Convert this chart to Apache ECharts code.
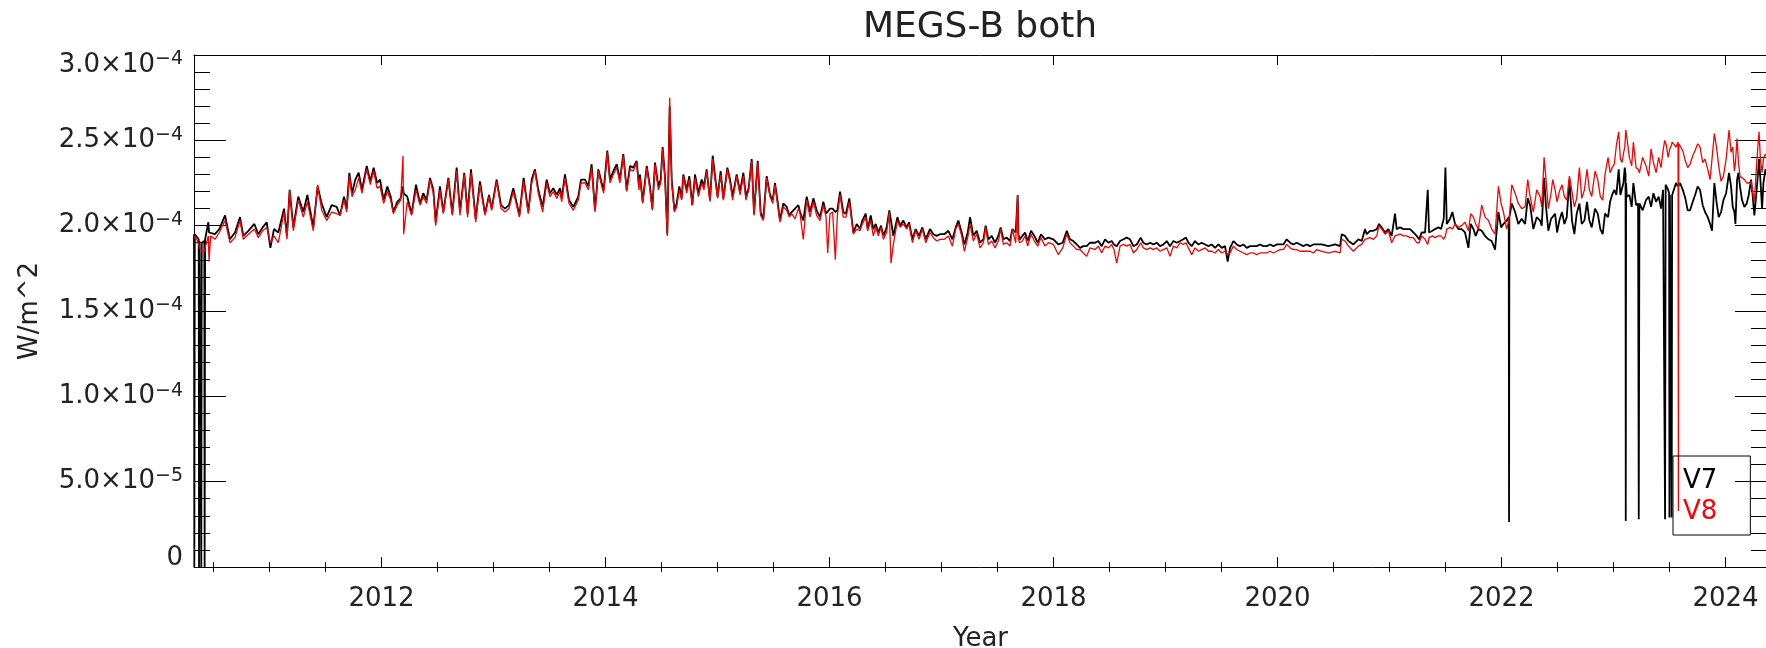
<!DOCTYPE html>
<html><head><meta charset="utf-8">
<script src="https://cdn.jsdelivr.net/npm/echarts@6/dist/echarts.min.js"></script>
<style>html,body{margin:0;padding:0;background:#fff}#c{width:1766px;height:648px}</style>
</head><body><div id="c"></div>
<script>
// Decimal year of each sample
const years = [
2010.326,2010.329,2010.333,2010.350,2010.368,2010.371,2010.375,2010.388,2010.391,2010.395,
2010.418,2010.421,2010.425,2010.440,2010.454,2010.460,2010.475,2010.513,2010.552,2010.603,
2010.647,2010.692,2010.737,2010.766,2010.811,2010.865,2010.900,2010.939,2010.975,2011.008,
2011.040,2011.079,2011.130,2011.156,2011.180,2011.213,2011.257,2011.302,2011.338,2011.391,
2011.430,2011.466,2011.510,2011.555,2011.600,2011.630,2011.665,2011.689,2011.713,2011.737,
2011.766,2011.796,2011.826,2011.868,2011.900,2011.930,2011.960,2011.987,2012.019,2012.052,
2012.082,2012.106,2012.141,2012.171,2012.192,2012.198,2012.230,2012.269,2012.308,2012.344,
2012.373,2012.403,2012.433,2012.463,2012.484,2012.522,2012.552,2012.597,2012.632,2012.671,
2012.701,2012.739,2012.769,2012.799,2012.841,2012.879,2012.924,2012.960,2012.984,2013.028,
2013.067,2013.103,2013.138,2013.177,2013.231,2013.269,2013.311,2013.341,2013.370,2013.400,
2013.439,2013.475,2013.504,2013.534,2013.564,2013.594,2013.609,2013.638,2013.674,2013.713,
2013.757,2013.781,2013.817,2013.847,2013.876,2013.906,2013.936,2013.966,2013.984,2014.016,
2014.040,2014.070,2014.100,2014.129,2014.159,2014.189,2014.219,2014.248,2014.278,2014.299,
2014.308,2014.332,2014.368,2014.397,2014.418,2014.442,2014.472,2014.493,2014.510,2014.531,
2014.552,2014.573,2014.591,2014.615,2014.635,2014.659,2014.680,2014.695,2014.725,2014.748,
2014.775,2014.799,2014.829,2014.859,2014.879,2014.903,2014.933,2014.957,2014.978,2015.001,
2015.028,2015.052,2015.088,2015.112,2015.135,2015.171,2015.201,2015.231,2015.254,2015.278,
2015.305,2015.326,2015.359,2015.385,2015.409,2015.439,2015.469,2015.493,2015.513,2015.537,
2015.558,2015.588,2015.618,2015.641,2015.662,2015.692,2015.722,2015.737,2015.766,2015.796,
2015.826,2015.856,2015.885,2015.915,2015.945,2015.969,2015.984,2016.004,2016.028,2016.052,
2016.070,2016.094,2016.123,2016.147,2016.177,2016.213,2016.243,2016.272,2016.293,2016.323,
2016.341,2016.368,2016.391,2016.412,2016.436,2016.460,2016.481,2016.510,2016.534,2016.549,
2016.570,2016.606,2016.630,2016.659,2016.689,2016.710,2016.740,2016.769,2016.799,2016.829,
2016.859,2016.897,2016.927,2016.957,2016.987,2017.025,2017.061,2017.097,2017.127,2017.150,
2017.180,2017.204,2017.234,2017.255,2017.284,2017.314,2017.344,2017.374,2017.394,2017.418,
2017.448,2017.478,2017.507,2017.528,2017.552,2017.582,2017.612,2017.632,2017.662,2017.674,
2017.680,2017.686,2017.698,2017.722,2017.746,2017.769,2017.799,2017.829,2017.859,2017.888,
2017.924,2017.954,2017.999,2018.043,2018.082,2018.118,2018.147,2018.177,2018.207,2018.237,
2018.266,2018.296,2018.326,2018.371,2018.400,2018.430,2018.460,2018.490,2018.519,2018.540,
2018.564,2018.594,2018.624,2018.653,2018.683,2018.713,2018.743,2018.778,2018.802,2018.832,
2018.862,2018.891,2018.921,2018.951,2018.981,2019.011,2019.040,2019.070,2019.100,2019.130,
2019.159,2019.183,2019.204,2019.234,2019.263,2019.293,2019.323,2019.353,2019.383,2019.412,
2019.442,2019.472,2019.502,2019.531,2019.555,2019.576,2019.606,2019.636,2019.665,2019.695,
2019.725,2019.755,2019.784,2019.814,2019.844,2019.874,2019.903,2019.933,2019.963,2019.993,
2020.022,2020.052,2020.082,2020.112,2020.141,2020.171,2020.201,2020.231,2020.260,2020.290,
2020.320,2020.350,2020.394,2020.454,2020.514,2020.558,2020.573,2020.603,2020.633,2020.677,
2020.722,2020.752,2020.781,2020.796,2020.826,2020.856,2020.886,2020.906,2020.930,2020.960,
2020.990,2021.019,2021.049,2021.064,2021.094,2021.124,2021.153,2021.183,2021.213,2021.243,
2021.264,2021.287,2021.317,2021.341,2021.353,2021.383,2021.406,2021.436,2021.460,2021.484,
2021.499,2021.511,2021.540,2021.561,2021.585,2021.615,2021.644,2021.674,2021.704,2021.725,
2021.749,2021.769,2021.793,2021.823,2021.853,2021.883,2021.912,2021.942,2021.972,2021.996,
2022.017,2022.046,2022.064,2022.067,2022.070,2022.091,2022.121,2022.150,2022.180,2022.210,
2022.234,2022.255,2022.284,2022.314,2022.344,2022.359,2022.380,2022.397,2022.418,2022.442,
2022.457,2022.478,2022.496,2022.516,2022.540,2022.561,2022.582,2022.606,2022.629,2022.650,
2022.671,2022.695,2022.716,2022.740,2022.763,2022.784,2022.805,2022.835,2022.859,2022.882,
2022.903,2022.924,2022.951,2022.969,2022.987,2023.007,2023.025,2023.046,2023.061,2023.076,
2023.088,2023.100,2023.107,2023.109,2023.112,2023.118,2023.141,2023.162,2023.177,2023.201,
2023.219,2023.225,2023.231,2023.260,2023.290,2023.314,2023.335,2023.356,2023.380,2023.403,
2023.424,2023.442,2023.457,2023.460,2023.465,2023.472,2023.487,2023.496,2023.499,2023.503,
2023.510,2023.516,2023.519,2023.523,2023.531,2023.558,2023.576,2023.579,2023.582,2023.594,
2023.618,2023.641,2023.662,2023.683,2023.707,2023.728,2023.751,2023.772,2023.796,2023.817,
2023.841,2023.862,2023.879,2023.900,2023.921,2023.939,2023.960,2023.981,2024.005,2024.031,
2024.049,2024.064,2024.079,2024.088,2024.103,2024.115,2024.129,2024.147,2024.168,2024.189,
2024.207,2024.228,2024.243,2024.257,2024.278,2024.299,2024.311,2024.326,2024.338,2024.356,
2024.370
];
// V7 irradiance, in units of 1e-4 W/m^2
const v7 = [
1.95,0,1.95,1.94,1.92,0,1.91,1.90,0,1.90,
1.91,0,1.92,1.93,2.02,1.96,1.97,1.95,1.98,2.06,
1.92,1.96,2.05,1.94,1.97,2.01,1.95,1.99,2.02,1.87,
1.98,1.96,2.10,1.94,2.21,1.99,2.17,2.08,2.18,1.99,
2.23,2.13,2.05,2.12,2.11,2.06,2.17,2.10,2.31,2.19,
2.27,2.31,2.21,2.35,2.26,2.34,2.25,2.27,2.15,2.23,
2.17,2.08,2.14,2.16,2.23,2.19,2.17,2.07,2.24,2.13,
2.19,2.15,2.28,2.21,2.02,2.23,2.08,2.28,2.07,2.34,
2.08,2.31,2.07,2.33,2.04,2.26,2.07,2.18,2.10,2.27,
2.12,2.10,2.12,2.22,2.06,2.28,2.08,2.27,2.33,2.21,
2.11,2.27,2.19,2.22,2.18,2.22,2.16,2.30,2.15,2.11,
2.17,2.27,2.27,2.23,2.36,2.09,2.33,2.25,2.21,2.44,
2.27,2.32,2.36,2.27,2.42,2.21,2.35,2.34,2.38,2.23,
2.30,2.14,2.35,2.23,2.10,2.37,2.23,2.27,2.46,2.29,
1.95,2.70,2.27,2.09,2.13,2.23,2.16,2.30,2.21,2.29,
2.12,2.30,2.19,2.27,2.23,2.33,2.15,2.41,2.29,2.17,
2.32,2.16,2.34,2.27,2.17,2.30,2.20,2.31,2.17,2.22,
2.39,2.07,2.38,2.08,2.04,2.29,2.18,2.15,2.25,2.14,
2.03,2.13,2.11,2.06,2.08,2.10,2.12,2.08,2.03,2.17,
2.08,2.16,2.09,2.05,2.14,2.07,2.08,2.10,2.10,2.08,
2.09,2.20,2.08,2.07,2.16,1.96,2.01,1.98,2.03,2.07,
1.98,2.06,1.98,2.01,1.96,2.00,1.94,1.99,2.09,2.03,
1.94,2.05,2.00,2.03,1.99,2.02,1.92,1.98,1.94,1.99,
1.92,1.98,1.95,1.94,1.95,1.95,1.97,1.92,1.99,2.03,
1.96,1.89,1.96,2.05,1.94,1.97,1.90,1.92,2.00,1.92,
1.94,1.90,1.94,1.99,1.92,1.93,1.91,1.98,1.96,2.10,
2.18,1.95,1.92,1.94,1.96,1.91,1.97,1.94,1.90,1.95,
1.92,1.93,1.92,1.89,1.90,1.97,1.92,1.91,1.89,1.87,
1.88,1.88,1.90,1.90,1.91,1.88,1.92,1.90,1.91,1.89,
1.88,1.91,1.92,1.93,1.92,1.88,1.89,1.93,1.90,1.89,
1.90,1.89,1.90,1.88,1.89,1.91,1.88,1.91,1.90,1.91,
1.92,1.93,1.90,1.88,1.91,1.89,1.90,1.89,1.88,1.89,
1.87,1.89,1.87,1.88,1.79,1.87,1.91,1.89,1.88,1.89,
1.87,1.88,1.88,1.88,1.89,1.88,1.88,1.89,1.88,1.89,
1.89,1.89,1.92,1.90,1.89,1.90,1.89,1.88,1.89,1.88,
1.89,1.89,1.89,1.88,1.89,1.88,1.95,1.94,1.91,1.89,
1.92,1.91,1.98,1.95,1.97,1.97,1.98,2.01,1.99,1.96,
1.98,1.94,2.07,1.98,1.99,1.98,1.98,1.98,1.96,1.94,
1.92,1.96,1.96,2.21,1.96,1.97,1.98,1.99,1.98,2.04,
2.34,2.01,2.04,2.08,2.01,1.98,1.98,1.96,1.87,2.01,
1.98,1.94,1.98,1.97,1.94,1.92,1.91,1.86,2.08,1.99,
2.01,2.03,2.05,0.264,2.05,2.13,2.08,2.01,2.04,2.01,
2.16,2.12,1.98,2.05,2.03,2.00,2.28,2.11,1.97,2.04,
2.03,2.07,1.96,2.03,2.08,2.01,2.05,2.27,2.03,1.95,
2.07,2.13,2.01,2.03,2.14,2.03,1.99,2.10,2.07,1.98,
1.95,2.07,2.05,2.14,2.18,2.21,2.18,2.33,2.18,2.17,
2.25,2.34,2.30,0.27,2.25,2.17,2.18,2.11,2.25,2.12,
2.13,0.28,2.13,2.09,2.15,2.17,2.11,2.19,2.14,2.17,
2.10,2.21,2.22,0.28,2.24,2.25,2.21,2.19,0.29,2.18,
2.17,2.17,0.29,2.18,2.18,2.25,2.23,2.23,2.23,2.25,
2.21,2.16,2.09,2.09,2.14,2.18,2.23,2.21,2.12,2.08,
2.05,2.01,1.97,2.25,2.13,2.05,2.08,2.15,2.19,2.31,
2.23,2.11,2.08,2.01,2.27,2.31,2.23,2.15,2.11,2.13,
2.18,2.27,2.17,2.06,2.21,2.39,2.27,2.10,2.25,2.33,
2.30
];
// V8 irradiance, in units of 1e-4 W/m^2
const v8 = [
1.94,1.94,1.93,1.92,1.89,1.88,1.87,1.86,1.86,1.85,
1.85,1.86,1.87,1.88,1.94,1.79,1.94,1.92,1.96,2.03,
1.90,1.93,2.03,1.92,1.95,1.98,1.93,1.97,1.99,1.90,
1.94,1.90,2.08,1.92,2.21,1.97,2.15,2.05,2.14,1.97,
2.24,2.09,2.03,2.08,2.07,2.06,2.15,2.08,2.29,2.17,
2.21,2.28,2.19,2.33,2.24,2.32,2.22,2.23,2.13,2.20,
2.15,2.07,2.12,2.15,2.41,1.95,2.14,2.06,2.21,2.12,
2.17,2.13,2.27,2.19,2.00,2.21,2.07,2.27,2.06,2.32,
2.06,2.30,2.05,2.31,2.02,2.24,2.06,2.17,2.09,2.26,
2.10,2.08,2.10,2.20,2.05,2.26,2.07,2.25,2.32,2.19,
2.08,2.25,2.17,2.20,2.16,2.20,2.14,2.28,2.13,2.09,
2.15,2.25,2.25,2.21,2.34,2.08,2.32,2.23,2.19,2.43,
2.25,2.30,2.34,2.25,2.41,2.20,2.33,2.32,2.37,2.21,
2.28,2.13,2.34,2.21,2.09,2.36,2.21,2.25,2.45,2.27,
1.94,2.75,2.25,2.08,2.11,2.21,2.15,2.29,2.19,2.27,
2.12,2.28,2.17,2.25,2.21,2.32,2.14,2.39,2.27,2.16,
2.30,2.15,2.33,2.25,2.15,2.29,2.18,2.29,2.15,2.21,
2.38,2.06,2.37,2.06,2.03,2.28,2.17,2.13,2.24,2.12,
2.02,2.11,2.09,2.05,2.07,2.04,2.10,2.07,1.92,2.15,
2.05,2.14,2.06,2.03,2.12,2.05,1.84,2.07,2.08,1.80,
2.06,2.18,2.05,2.05,2.14,1.95,1.98,1.97,2.01,2.05,
1.97,2.03,1.94,1.99,1.94,1.99,1.92,1.96,2.08,1.78,
1.89,2.03,1.99,2.01,1.98,2.01,1.90,1.97,1.92,1.98,
1.90,1.96,1.93,1.91,1.92,1.92,1.94,1.88,1.98,2.01,
1.94,1.85,1.93,2.01,1.91,1.95,1.87,1.90,1.99,1.89,
1.91,1.87,1.91,1.98,1.89,1.90,1.88,1.98,1.90,2.10,
2.18,1.92,1.90,1.91,1.94,1.88,1.95,1.91,1.88,1.93,
1.88,1.90,1.89,1.83,1.87,1.95,1.90,1.88,1.86,1.86,
1.84,1.82,1.87,1.86,1.88,1.84,1.88,1.87,1.89,1.86,
1.78,1.88,1.89,1.88,1.89,1.84,1.86,1.90,1.87,1.86,
1.87,1.86,1.87,1.85,1.86,1.87,1.82,1.88,1.87,1.90,
1.89,1.90,1.87,1.83,1.87,1.85,1.86,1.87,1.85,1.85,
1.84,1.86,1.84,1.85,1.83,1.84,1.88,1.86,1.85,1.84,
1.83,1.84,1.84,1.83,1.84,1.84,1.84,1.85,1.84,1.85,
1.86,1.86,1.89,1.87,1.86,1.86,1.85,1.85,1.85,1.85,
1.84,1.86,1.85,1.84,1.85,1.84,1.92,1.91,1.88,1.85,
1.88,1.89,1.92,1.92,1.93,1.92,1.94,2.00,1.98,1.95,
1.97,1.90,1.94,1.94,1.95,1.94,1.94,1.93,1.93,1.90,
1.90,1.94,1.92,1.89,1.93,1.94,1.93,1.94,1.94,1.92,
1.94,1.98,1.99,1.98,2.01,1.99,2.00,2.02,1.97,2.07,
2.05,2.01,1.98,2.12,2.05,2.03,1.98,1.95,2.23,2.13,
2.08,1.98,2.03,2.04,2.05,2.24,2.19,2.13,2.10,2.11,
2.27,2.17,2.08,2.21,2.17,2.11,2.40,2.27,2.10,2.19,
2.27,2.21,2.14,2.20,2.24,2.17,2.15,2.29,2.20,2.11,
2.16,2.34,2.16,2.21,2.33,2.21,2.17,2.32,2.27,2.17,
2.15,2.30,2.40,2.31,2.34,2.36,2.47,2.55,2.39,2.37,
2.42,2.46,2.53,2.56,2.55,2.52,2.40,2.35,2.49,2.34,
2.33,2.32,2.31,2.40,2.35,2.29,2.45,2.37,2.31,2.40,
2.34,2.44,2.50,2.51,2.49,2.47,2.40,2.43,2.44,2.45,
2.46,2.47,2.48,2.49,2.50,2.46,2.49,0.328,2.48,2.47,
2.44,2.38,2.34,2.36,2.41,2.44,2.48,2.46,2.37,2.39,
2.33,2.27,2.27,2.54,2.45,2.35,2.26,2.29,2.39,2.56,
2.43,2.46,2.32,2.37,2.51,2.37,2.29,2.28,2.27,2.25,
2.25,2.26,2.19,2.14,2.37,2.55,2.39,2.31,2.39,2.42,
2.40
];
const UNIT = 1e-4;
const seriesNames = ['V7', 'V8'];
const seriesColors = ['#000000', '#ff0000'];
const xMajorYears = [2012, 2014, 2016, 2018, 2020, 2022, 2024];
const xMinorYears = [2010.5, 2011, 2011.5, 2012.5, 2013, 2013.5, 2014.5, 2015, 2015.5, 2016.5, 2017, 2017.5,
                     2018.5, 2019, 2019.5, 2020.5, 2021, 2021.5, 2022.5, 2023, 2023.5];
const yTickValues = [0, 5e-5, 1e-4, 1.5e-4, 2e-4, 2.5e-4, 3e-4];
const yTickMantissa = ['0', '5.0', '1.0', '1.5', '2.0', '2.5', '3.0'];
const yTickExponent = [null, '−5', '−4', '−4', '−4', '−4', '−4'];

const X_MIN = 2010.326, X_MAX = 2024.37, Y_MAX = 3e-4;
const FONT = 'DejaVu Sans';
const TXT = '#222';
const line = {color: '#000', width: 1};

function yLabel(v) {
  let idx = 0, best = Infinity;
  yTickValues.forEach((t, i) => { const d = Math.abs(t - v); if (d < best) { best = d; idx = i; } });
  if (yTickExponent[idx] === null) return '{z|' + yTickMantissa[idx] + '}';
  const top = Math.abs(v - Y_MAX) < 1e-12;
  return top ? '{bt|' + yTickMantissa[idx] + '×10}{st|' + yTickExponent[idx] + '}'
             : '{b|' + yTickMantissa[idx] + '×10}{s|' + yTickExponent[idx] + '}';
}

const xBase = {type: 'value', min: X_MIN, max: X_MAX, gridIndex: 0, splitLine: {show: false},
  axisLine: {show: true, onZero: false, lineStyle: line}};
const yBase = {type: 'value', min: 0, max: Y_MAX, interval: 5e-5, splitLine: {show: false},
  axisLine: {show: true, onZero: false, lineStyle: line},
  axisTick: {show: true, inside: true, length: 32, lineStyle: line},
  minorTick: {show: true, splitNumber: 5, length: 16, lineStyle: line},
  minorSplitLine: {show: false}};

const chart = echarts.init(document.getElementById('c'), null, {renderer: 'canvas'});
chart.setOption({
  animation: false,
  backgroundColor: '#fff',
  title: {text: 'MEGS-B both', left: 980, top: 10, textAlign: 'center', padding: 0,
    textStyle: {fontSize: 36, fontWeight: 'normal', fontFamily: FONT, color: TXT}},
  grid: {left: 194, top: 55, width: 1573, height: 512, containLabel: false, outerBoundsMode: 'none'},
  legend: {orient: 'vertical', left: 1673, top: 456, selectedMode: false,
    data: [{name: seriesNames[0], textStyle: {color: seriesColors[0]}},
           {name: seriesNames[1], textStyle: {color: seriesColors[1]}}],
    itemWidth: 0, itemHeight: 0, itemGap: 5, padding: [12, 33, 10, 4],
    borderColor: '#000', borderWidth: 1,
    textStyle: {fontSize: 26, lineHeight: 26, fontFamily: FONT}},
  xAxis: [
    Object.assign({}, xBase, {position: 'bottom',
      axisTick: {show: true, inside: true, length: 10, customValues: xMajorYears, lineStyle: line},
      axisLabel: {show: true, customValues: xMajorYears, margin: 19, fontSize: 26, fontFamily: FONT, color: TXT,
        formatter: v => String(Math.round(v))},
      name: 'Year', nameLocation: 'middle', nameGap: 59,
      nameTextStyle: {fontSize: 26, fontFamily: FONT, color: TXT}}),
    Object.assign({}, xBase, {position: 'top',
      axisTick: {show: true, inside: true, length: 10, customValues: xMajorYears, lineStyle: line},
      axisLabel: {show: false}}),
    Object.assign({}, xBase, {position: 'top', axisLine: {show: false},
      axisTick: {show: true, inside: true, length: 5, customValues: xMinorYears, lineStyle: line},
      axisLabel: {show: false}}),
    Object.assign({}, xBase, {position: 'bottom', axisLine: {show: false},
      axisTick: {show: true, inside: true, length: 5, customValues: xMinorYears, lineStyle: line},
      axisLabel: {show: false}})
  ],
  yAxis: [
    Object.assign({}, yBase, {position: 'left',
      axisLabel: {show: true, margin: 11, showMinLabel: true, showMaxLabel: true, formatter: yLabel,
        rich: {
          b: {fontSize: 26, lineHeight: 30, fontFamily: FONT, color: TXT},
          s: {fontSize: 19, lineHeight: 19, padding: [0, 0, 11, 0], fontFamily: FONT, color: TXT},
          bt: {fontSize: 26, lineHeight: 30, padding: [20, 0, 0, 0], fontFamily: FONT, color: TXT},
          st: {fontSize: 19, lineHeight: 19, padding: [20, 0, 11, 0], fontFamily: FONT, color: TXT},
          z: {fontSize: 26, lineHeight: 26, padding: [0, 0, 18, 0], fontFamily: FONT, color: TXT}
        }},
      name: 'W/m^2', nameLocation: 'middle', nameRotate: 90, nameGap: 151,
      nameTextStyle: {fontSize: 26, fontFamily: FONT, color: TXT}}),
    Object.assign({}, yBase, {position: 'right', axisLabel: {show: false}})
  ],
  series: [
    {name: seriesNames[0], type: 'line', xAxisIndex: 0, yAxisIndex: 0, z: 2,
     data: years.map((y, i) => [y, v7[i] * UNIT]), showSymbol: false, symbol: 'none',
     lineStyle: {color: seriesColors[0], width: 1.8}, itemStyle: {color: seriesColors[0]}},
    {name: seriesNames[1], type: 'line', xAxisIndex: 0, yAxisIndex: 0, z: 3,
     data: years.map((y, i) => [y, v8[i] * UNIT]), showSymbol: false, symbol: 'none',
     lineStyle: {color: seriesColors[1], width: 1.3}, itemStyle: {color: seriesColors[1]}}
  ]
});
</script>
</body></html>
